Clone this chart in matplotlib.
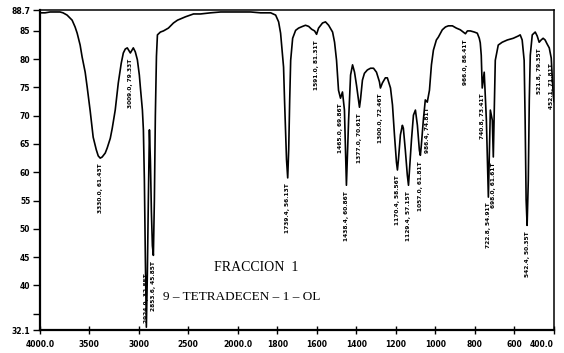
import numpy as np
import matplotlib
matplotlib.use('Agg')
import matplotlib.pyplot as plt

# trace (wavenumber cm-1, %T)
wn = [4000, 3949, 3898, 3848, 3797, 3767, 3726, 3675, 3645, 3624, 3594, 3574, 3543, 3523, 3492, 3462,
      3431, 3411, 3391, 3371, 3340, 3320, 3289, 3269, 3239, 3208, 3178, 3157, 3137, 3117, 3096, 3086,
      3076, 3056, 3036, 3015, 2995, 2985, 2964, 2954, 2944, 2934, 2924, 2914, 2904, 2893, 2883, 2873,
      2863, 2853, 2843, 2833, 2822, 2812, 2782, 2751, 2701, 2650, 2609, 2528, 2447, 2376, 2274, 2173,
      2071, 2000, 1934, 1884, 1833, 1808, 1793, 1783, 1773, 1768, 1763, 1758, 1753, 1747, 1742, 1737,
      1732, 1722, 1707, 1692, 1672, 1657, 1641, 1626, 1611, 1601, 1591, 1571, 1556, 1540, 1520, 1510,
      1500, 1490, 1480, 1470, 1460, 1450, 1439, 1429, 1419, 1409, 1399, 1389, 1384, 1379, 1369, 1359,
      1344, 1328, 1313, 1298, 1283, 1278, 1268, 1253, 1243, 1227, 1217, 1207, 1197, 1192, 1187, 1177,
      1167, 1162, 1152, 1142, 1136, 1131, 1121, 1111, 1101, 1091, 1081, 1076, 1071, 1061, 1051, 1041,
      1030, 1020, 1010, 995, 985, 965, 949, 934, 914, 894, 874, 859, 848, 838, 823, 803,
      788, 778, 773, 768, 763, 753, 742, 732, 722, 712, 707, 702, 697, 682, 662, 636,
      606, 581, 571, 561, 551, 546, 541, 536, 530, 525, 520, 510, 495, 485, 475, 465,
      455, 445, 435, 424, 414, 404, 400]
pct_t = [88.2, 88.2, 88.35, 88.35, 88.35, 88.2, 87.8, 86.9, 85.7, 84.6, 82.5, 80.4, 77.7, 75.1, 70.8, 66.2,
         64.0, 62.9, 62.5, 62.7, 63.4, 64.3, 66.0, 67.8, 71.0, 75.8, 79.3, 81.1, 81.8, 82.0, 81.4, 81.1,
         81.4, 82.0, 81.3, 79.9, 77.2, 75.1, 71.0, 67.5, 58.6, 44.5, 32.6, 42.0, 55.0, 67.5, 62.0, 53.0,
         47.0, 45.3, 55.0, 70.0, 80.5, 84.3, 84.8, 85.0, 85.5, 86.4, 86.9, 87.5, 88.0, 88.0, 88.2, 88.35,
         88.35, 88.35, 88.35, 88.2, 88.2, 87.8, 86.6, 84.6, 80.7, 78.6, 72.7, 67.5, 62.2, 59.0, 64.0, 72.7,
         79.8, 83.7, 85.1, 85.5, 85.8, 86.0, 85.8, 85.3, 85.0, 84.4, 85.5, 86.4, 86.6, 86.0, 84.8, 83.0,
         79.8, 74.5, 73.1, 74.2, 71.0, 57.7, 69.2, 77.2, 79.0, 77.7, 75.4, 72.8, 71.5, 72.8, 76.3, 77.5,
         78.1, 78.4, 78.4, 77.7, 76.0, 74.9, 75.8, 76.7, 76.7, 74.9, 71.9, 66.6, 61.8, 60.4, 62.2, 66.6,
         68.3, 67.8, 63.9, 59.5, 57.7, 60.4, 65.7, 70.1, 71.0, 68.3, 63.9, 63.0, 64.8, 69.2, 72.8, 72.4,
         74.5, 79.0, 81.6, 83.4, 83.9, 85.2, 85.7, 85.9, 85.9, 85.5, 85.2, 84.8, 84.5, 85.0, 85.0, 84.8,
         84.6, 83.7, 82.9, 80.7, 74.9, 77.7, 69.2, 55.6, 71.0, 69.2, 62.7, 71.0, 79.8, 82.5, 83.0, 83.4,
         83.7, 84.1, 84.3, 83.4, 79.8, 69.2, 55.1, 50.6, 58.6, 72.8, 80.7, 84.3, 84.8, 84.1, 83.0, 83.4,
         83.7, 83.4, 82.7, 82.0, 80.2, 73.7, 72.5]

# peak annotations printed on the chart
pk_wn = [3391, 3086, 2924, 2853, 1747, 1601, 1480, 1450, 1384, 1278, 1192, 1136, 1076, 1041,
         848, 763, 732, 707, 536, 475, 414]
pk_t = [62.5, 81.1, 32.6, 45.3, 59.0, 84.4, 73.1, 57.7, 71.5, 74.9, 60.4, 57.7, 63.0, 72.4,
        84.5, 74.9, 55.6, 62.7, 50.6, 83.0, 80.2]
pk_lbl = ["3330.0, 61.43T", "3009.0, 79.33T", "2924.9, 32.85T", "2853.6, 45.85T", "1739.4, 56.13T",
          "1591.0, 81.31T", "1465.0, 69.86T", "1438.4, 60.86T", "1377.0, 70.61T", "1300.0, 72.46T",
          "1170.4, 58.56T", "1129.4, 57.15T", "1057.0, 61.81T", "986.4, 74.81T", "966.0, 86.41T",
          "740.8, 73.41T", "722.8, 54.91T", "698.0, 61.61T", "542.4, 50.35T", "521.8, 79.35T",
          "452.1, 71.81T"]

x_ticks = [4000, 3500, 3000, 2500, 2000, 1800, 1600, 1400, 1200, 1000, 800, 600, 400]
x_tlbl = ["4000.0", "3500", "3000", "2500", "2000.0", "1800", "1600", "1400", "1200", "1000", "800", "600", "400.0"]
y_ticks = [32.1, 35, 40, 45, 50, 55, 60, 65, 70, 75, 80, 85, 88.7]
y_tlbl = ["32.1", "", "40", "45", "50", "55", "60", "65", "70", "75", "80", "85", "88.7"]

# chart paper: half scale above 2000 cm-1
def fwd(w):
    w = np.asarray(w, float)
    return np.where(w > 2000, 2000 + (w - 2000) * 0.5, w)

def inv(p):
    p = np.asarray(p, float)
    return np.where(p > 2000, 2000 + (p - 2000) * 2.0, p)

fig = plt.figure(figsize=(5.64, 3.53), dpi=100)
ax = fig.add_axes([40/564, 23/353, 514/564, 320/353])
ax.set_xscale('function', functions=(fwd, inv))
ax.plot(wn, pct_t, '-', color='black', lw=1.2)
ax.set_xlim(4000, 400)
ax.set_ylim(32.1, 88.7)

for w, t, s in zip(pk_wn, pk_t, pk_lbl):
    if t < 36:
        ax.text(w, 33.3, s, rotation=90, ha='center', va='bottom', fontsize=4.2, fontweight='bold')
    else:
        ax.text(w, t - 1.0, s, rotation=90, ha='center', va='top', fontsize=4.2, fontweight='bold')

ax.set_xticks(x_ticks)
ax.set_xticklabels(x_tlbl)
ax.set_yticks(y_ticks)
ax.set_yticklabels(y_tlbl)
ax.minorticks_off()
ax.tick_params(axis='x', direction='inout', length=6, width=1.0, pad=4, labelsize=5.5)
ax.tick_params(axis='y', direction='out', length=5, width=1.0, pad=2, labelsize=5.5)
for lb in ax.get_xticklabels() + ax.get_yticklabels():
    lb.set_fontweight('bold')
ax.get_xticklabels()[-1].set_horizontalalignment('right')
for sp in ['left', 'bottom']:
    ax.spines[sp].set_linewidth(1.6)
for sp in ['top', 'right']:
    ax.spines[sp].set_linewidth(1.1)

ax.text(0.42, 0.195, 'FRACCION  1', transform=ax.transAxes, ha='center', va='center',
        fontsize=10, family='Liberation Serif')
ax.text(0.392, 0.103, '9 – TETRADECEN – 1 – OL', transform=ax.transAxes, ha='center', va='center',
        fontsize=9.5, family='Liberation Serif')

fig.savefig('out.png', dpi=100, facecolor='white')
